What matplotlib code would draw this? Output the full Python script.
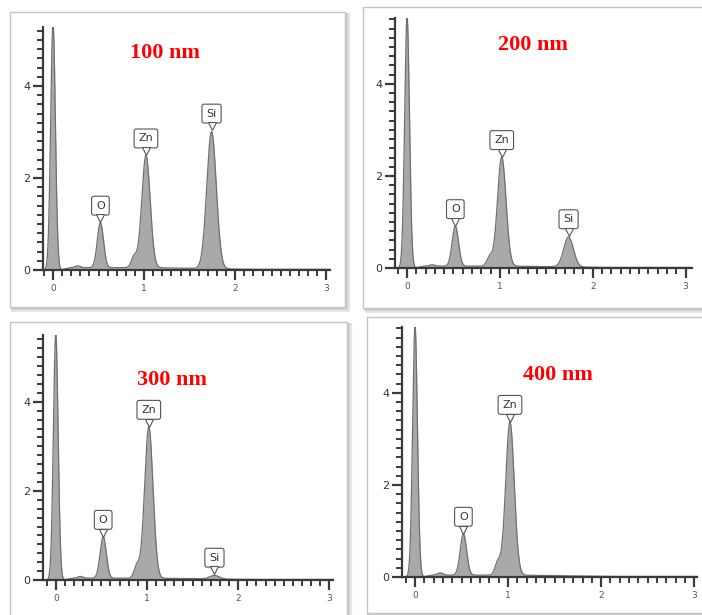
import numpy as np
import matplotlib
matplotlib.use("Agg")
import matplotlib.pyplot as plt
from matplotlib.patches import Rectangle
from matplotlib.ticker import MultipleLocator
from matplotlib.transforms import offset_copy

# ---------------- data ----------------
titles = ["100 nm", "200 nm", "300 nm", "400 nm"]
# peaks: zero-energy strobe, C, O, Zn-L shoulder, Zn-L, Si-K
peak_names = ["", "", "O", "", "Zn", "Si"]
peak_centers = [0.0, 0.27, 0.52, 0.89, 1.02, 1.74]       # keV
peak_widths = [0.026, 0.03, 0.034, 0.03, 0.046, 0.052]   # keV (sigma)
heights_100 = [5.35, 0.04, 0.98, 0.24, 2.44, 2.98]
heights_200 = [5.45, 0.03, 0.87, 0.20, 2.37, 0.65]
heights_300 = [5.52, 0.04, 0.93, 0.28, 3.40, 0.08]
heights_400 = [5.45, 0.05, 0.90, 0.28, 3.33, 0.00]
background = [0.05, 0.04, 0.04, 0.04]
labelled = [["O", "Zn", "Si"], ["O", "Zn", "Si"], ["O", "Zn", "Si"], ["O", "Zn"]]
all_heights = [heights_100, heights_200, heights_300, heights_400]

W, H = 702, 615
fig = plt.figure(figsize=(W / 100, H / 100), dpi=100)

# layout (pixels): frame rects and axes rects
frames = [(10, 12, 345, 307), (363, 7, 704, 308), (10, 322, 347, 620), (367, 317, 704, 613)]
axes_px = [(43, 27, 330, 270), (395, 18, 692, 268), (43, 335, 333, 580), (402, 327, 697, 577)]
xlims = [(-0.11, 3.04), (-0.13, 3.07), (-0.14, 3.04), (-0.14, 3.03)]
ylims = [(0, 5.28), (0, 5.43), (0, 5.5), (0, 5.43)]
title_pos = [(165, 53), (533, 45), (172, 380), (558, 375)]


def fx(px):
    return px / W


def fy(py):
    return 1 - py / H


# frames with soft shadow
for (l, t, r, b) in frames:
    for (off, col, lw) in [(3, '#e6e6e6', 3), (1.5, '#cfcfcf', 1.5)]:
        fig.add_artist(Rectangle((fx(l + off), fy(b + off)), fx(r - l), (b - t) / H,
                                 transform=fig.transFigure, fill=False,
                                 ec=col, lw=lw, zorder=0))
    fig.add_artist(Rectangle((fx(l), fy(b)), fx(r - l), (b - t) / H,
                             transform=fig.transFigure, fc='white',
                             ec='#c4c4c4', lw=1.0, zorder=0.5))

line_col = '#3a3a3a'
for i in range(4):
    l, t, r, b = axes_px[i]
    ax = fig.add_axes([fx(l), fy(b), fx(r - l), (b - t) / H])
    ax.set_zorder(2)
    ax.patch.set_alpha(0)
    x = np.linspace(-0.1, xlims[i][1], 2000)
    y = np.zeros_like(x)
    for c, w, h in zip(peak_centers, peak_widths, all_heights[i]):
        y += h * np.exp(-0.5 * ((x - c) / w) ** 2)
    y += background[i] * np.clip((x - 0.08) / 0.1, 0, 1) * np.clip((2.6 - x) / 1.5, 0.3, 1)
    ax.fill_between(x, 0, y, color='#a9a9a9', lw=0)
    ax.plot(x, y, color='#6f6f6f', lw=0.9)

    ax.set_xlim(*xlims[i])
    ax.set_ylim(*ylims[i])
    for s in ['top', 'right']:
        ax.spines[s].set_visible(False)
    for s in ['left', 'bottom']:
        ax.spines[s].set_color(line_col)
        ax.spines[s].set_linewidth(1.6)
    ax.xaxis.set_major_locator(MultipleLocator(1))
    ax.xaxis.set_minor_locator(MultipleLocator(0.1))
    ax.yaxis.set_major_locator(MultipleLocator(2))
    ax.yaxis.set_minor_locator(MultipleLocator(0.2))
    ax.tick_params(which='major', direction='out', length=7, width=1.6, color=line_col,
                   labelsize=8, labelcolor='#333333', pad=2)
    ax.tick_params(which='minor', direction='out', length=4, width=1.4, color=line_col)
    ax.tick_params(axis='x', labelsize=6.5, labelcolor='#555555', pad=3)

    # callouts
    mk_tr = offset_copy(ax.transData, fig=fig, x=0, y=3, units='points')
    for name in labelled[i]:
        k = peak_names.index(name)
        c = peak_centers[k]
        h = all_heights[i][k] + background[i]
        ax.annotate(name, xy=(c, h), xytext=(0, 8.6), textcoords='offset points',
                    ha='center', va='bottom', fontsize=8, color='#333333',
                    family='DejaVu Sans',
                    bbox=dict(boxstyle='round,pad=0.4,rounding_size=0.2', fc='white',
                              ec='#555555', lw=0.8),
                    zorder=6)
        ax.plot([c], [h], marker='v', ms=6, mfc='white', mec='#555555', mew=0.8,
                zorder=7, transform=mk_tr, clip_on=False)

    tx, ty = title_pos[i]
    fig.text(fx(tx), fy(ty), titles[i], ha='center', va='center', color='#ff0000',
             fontsize=16, fontweight='bold', family='Liberation Serif', zorder=3)

fig.savefig('out.png', dpi=100)
